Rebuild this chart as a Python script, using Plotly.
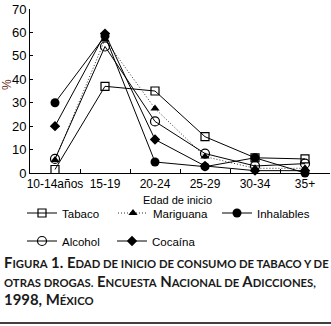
import plotly.graph_objects as go

categories = ["10-14años", "15-19", "20-24", "25-29", "30-34", "35+"]
tabaco = [1.5, 37, 35, 15.5, 6.5, 6]
mariguana = [5.5, 57, 27.5, 7, 2, 2]
inhalables = [30, 58.5, 4.7, 2.7, 6.5, 0]
alcohol = [6, 54, 22, 8.3, 3, 4]
cocaina = [20, 59.5, 14.3, 3, 1, 1]
y_ticks = [0, 10, 20, 30, 40, 50, 60, 70]

W, H = 331, 326
L, R, T, B = 30, 1, 9, 153
PW, PH = W - L - R, H - T - B


def py(pix):
    return (H - B - pix) / PH


def px(pix):
    return (pix - L) / PW


fig = go.Figure()

# name, values, marker, dash, legend id, text start x (px), row centre y (px)
series = [
    ("Tabaco", tabaco, dict(symbol="square-open", size=8, color="black", line=dict(width=1.2)), "solid", "legend", 70, 214),
    ("Mariguana", mariguana, dict(symbol="triangle-up", size=8, color="black"), "1px,2px", "legend2", 161, 214),
    ("Inhalables", inhalables, dict(symbol="circle", size=9, color="black"), "solid", "legend3", 265, 214),
    ("Alcohol", alcohol, dict(symbol="circle-open", size=9, color="black", line=dict(width=1.2)), "solid", "legend4", 70, 242),
    ("Cocaína", cocaina, dict(symbol="diamond", size=8, color="black"), "solid", "legend5", 160, 242),
]

legends = {}
for name, vals, mk, dash, leg, tx, ty in series:
    fig.add_trace(go.Scatter(
        x=categories, y=vals, name=name, mode="lines+markers",
        marker=mk, line=dict(color="black" if dash == "solid" else "#333", width=1, dash=dash),
        cliponaxis=False, legend=leg,
    ))
    legends[leg] = dict(
        orientation="h", x=px(tx - 48), xanchor="left", y=py(ty - 1), yanchor="middle",
        font=dict(size=11.5, color="black"), bgcolor="rgba(0,0,0,0)", itemwidth=30,
    )

font_main = "Liberation Sans, Arial, sans-serif"

fig.update_layout(
    width=W, height=H,
    margin=dict(l=L, r=R, t=T, b=B, pad=0, autoexpand=False),
    paper_bgcolor="white", plot_bgcolor="white",
    font=dict(family=font_main, size=12, color="black"),
    xaxis=dict(
        type="category", range=[-0.5, 5.5], tickangle=0, automargin=False,
        showline=True, linecolor="black", linewidth=1,
        ticks="inside", ticklen=4, tickcolor="black", tickson="boundaries",
        showgrid=False, zeroline=False,
        tickfont=dict(size=12, color="black"),
    ),
    yaxis=dict(
        range=[0, 70], tickvals=y_ticks, automargin=False,
        showline=True, linecolor="black", linewidth=1,
        ticks="inside", ticklen=3, tickcolor="black",
        showgrid=False, zeroline=False,
        tickfont=dict(size=13, color="black"),
    ),
    showlegend=True,
    **legends,
)

# axis titles
fig.add_annotation(text="Edad de inicio", xref="paper", yref="paper", x=px(177), y=py(200),
                   xanchor="center", yanchor="middle", showarrow=False,
                   font=dict(family=font_main, size=11, color="black"))
fig.add_annotation(text="%", xref="paper", yref="paper", x=px(7), y=py(85), textangle=-90,
                   xanchor="center", yanchor="middle", showarrow=False,
                   font=dict(family=font_main, size=12, color="#6b2e1a"))

SM = "font-size:11.3px"


def sc(big, small):
    return big + "<span style='" + SM + "'>" + small + "</span>"


cap_font = dict(family="Lato, Open Sans, sans-serif", size=14.9, color="#1a1a1a")
line1 = ("<b>" + sc("F", "IGURA") + " 1. " + sc("E", "DAD DE INICIO DE CONSUMO DE TABACO Y DE") + "</b>")
line2 = ("<b><span style='" + SM + "'>OTRAS DROGAS.</span> " + sc("E", "NCUESTA") + " "
         + sc("N", "ACIONAL DE") + " " + sc("A", "DICCIONES,") + "</b>")
line3 = "<b>1998, " + sc("M", "ÉXICO") + "</b>"

for txt, base in [(line1, 273), (line2, 292), (line3, 310)]:
    fig.add_annotation(
        text=txt, xref="paper", yref="paper", x=px(2), y=py(base),
        xanchor="left", yanchor="bottom", showarrow=False, font=cap_font,
    )

fig.add_shape(type="line", xref="paper", yref="paper",
              x0=px(0), x1=px(331), y0=py(323), y1=py(323),
              line=dict(color="black", width=1.5))

fig.write_html("out.html", config={"displayModeBar": False},
               post_script="document.body.style.margin='0px';")
